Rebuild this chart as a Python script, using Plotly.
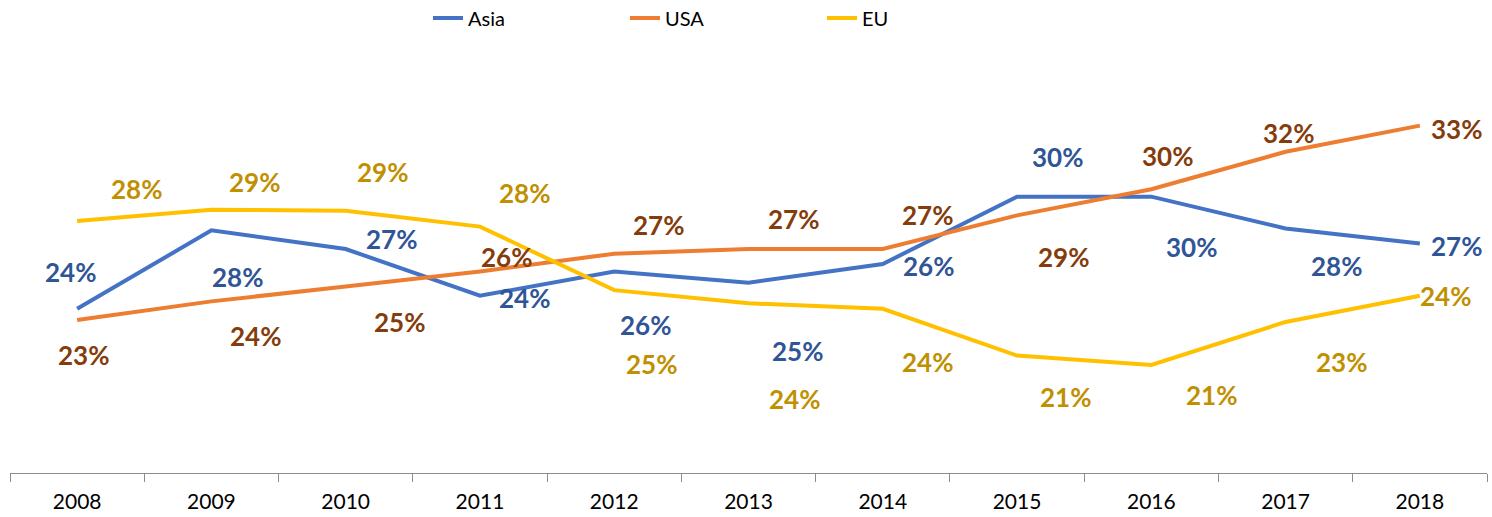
import plotly.graph_objects as go

years = ["2008", "2009", "2010", "2011", "2012", "2013", "2014", "2015", "2016", "2017", "2018"]
asia = [0.236, 0.278, 0.268, 0.243, 0.256, 0.250, 0.260, 0.296, 0.296, 0.279, 0.271]
usa = [0.230, 0.240, 0.248, 0.256, 0.2655, 0.268, 0.268, 0.286, 0.300, 0.320, 0.334]
eu = [0.283, 0.289, 0.2885, 0.280, 0.246, 0.239, 0.236, 0.211, 0.206, 0.229, 0.243]

# label offsets in pixels (dx right, dy down) relative to each point
asia_off = [(-7, -37), (26, 47), (46, -10), (45, 2), (31, 54), (49, 68), (46, 2), (40, -40), (40, 50), (51, 38), (37, 3)]
usa_off = [(6, 35), (44, 35), (54, 36), (27, -14), (44, -29), (45, -30), (45, -34), (46, 42), (16, -33), (3, -19), (37, 3)]
eu_off = [(59, -32), (43, -28), (37, -39), (45, -34), (37, 74), (46, 96), (45, 53), (48, 41), (60, 30), (56, 40), (26, 0)]

series = [
    ("Asia", asia, "#4472C4", "#2F5597", asia_off),
    ("USA", usa, "#ED7D31", "#843C0C", usa_off),
    ("EU", eu, "#FFC000", "#BF9000", eu_off),
]

fig = go.Figure()
annotations = []
for name, vals, col, lcol, offs in series:
    fig.add_trace(go.Scatter(x=years, y=vals, mode="lines", name=name,
                             line=dict(color=col, width=4), hoverinfo="skip"))
    for i, (v, (dx, dy)) in enumerate(zip(vals, offs)):
        annotations.append(dict(x=i, y=v, xref="x", yref="y", text=f"{round(v * 100)}%",
                                showarrow=False, xshift=dx, yshift=-dy,
                                font=dict(family="Lato", size=26, color=lcol, weight="bold")))

fig.update_layout(
    width=1492, height=517,
    margin=dict(l=10, r=5, t=60, b=44),
    paper_bgcolor="white", plot_bgcolor="white",
    annotations=annotations,
    showlegend=True,
    legend=dict(orientation="h", xref="container", yref="container",
                x=428 / 1492, y=1 - 18 / 517, xanchor="left", yanchor="middle",
                entrywidth=152, entrywidthmode="pixels",
                font=dict(family="Lato", size=20, color="#000000"),
                bgcolor="rgba(0,0,0,0)"),
    xaxis=dict(type="category", range=[-0.5, 10.5], showline=True, linecolor="#8C8C8C",
               linewidth=1.3, ticks="outside", tickson="boundaries", ticklen=8,
               tickcolor="#8C8C8C", tickwidth=1.3, showgrid=False, zeroline=False,
               ticklabelstandoff=10,
               tickfont=dict(family="Lato", size=21, color="#000000")),
    yaxis=dict(range=[0.1482, 0.3691], visible=False, showgrid=False, zeroline=False),
)

fig.write_html("out.html")
